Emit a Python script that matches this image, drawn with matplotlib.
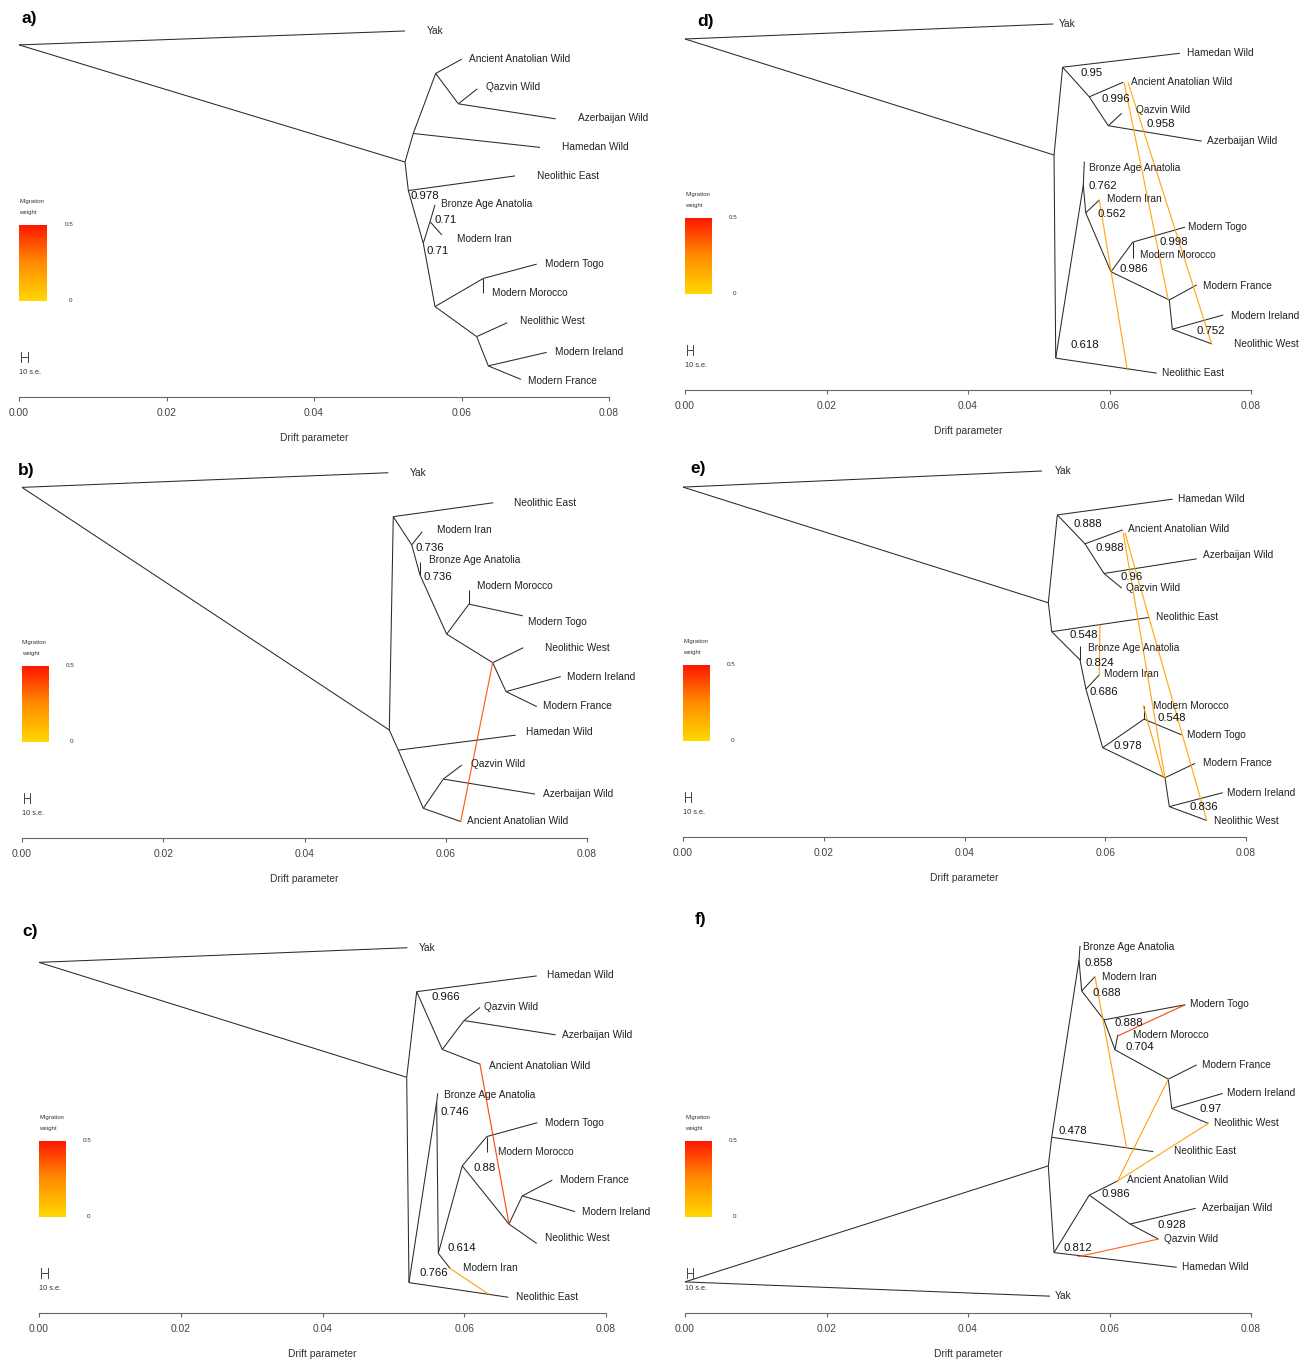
import numpy as np
import matplotlib
matplotlib.use("Agg")
import matplotlib.pyplot as plt
from matplotlib.colors import LinearSegmentedColormap

plt.rcParams['font.family'] = ['Liberation Sans', 'DejaVu Sans']

# population names used as tip labels
NAMES = {"Yak": "Yak", "AAW": "Ancient Anatolian Wild", "QAZ": "Qazvin Wild",
         "AZE": "Azerbaijan Wild", "HAM": "Hamedan Wild", "NE": "Neolithic East",
         "BAA": "Bronze Age Anatolia", "IRN": "Modern Iran", "TGO": "Modern Togo",
         "MOR": "Modern Morocco", "NW": "Neolithic West", "IRL": "Modern Ireland",
         "FRA": "Modern France"}

# ---- panel a (no migration) ----
a_nodes = ["r", "n1", "n2", "n3", "n4", "n5", "n6", "n7", "n8", "n9", "n10", "n11"]
a_nx = [0.0, 0.05234, 0.05346, 0.05650, 0.05957, 0.05279, 0.05482, 0.05573, 0.05641, 0.06296, 0.06206, 0.06363]
a_ny = [0.962, 0.642, 0.720, 0.884, 0.801, 0.564, 0.420, 0.479, 0.247, 0.324, 0.165, 0.085]
a_tips = ["Yak", "AAW", "QAZ", "AZE", "HAM", "NE", "BAA", "IRN", "TGO", "MOR", "NW", "IRL", "FRA"]
a_tx = [0.05234, 0.06003, 0.06214, 0.07277, 0.07064, 0.06725, 0.05641, 0.05732, 0.07020, 0.06296, 0.06621, 0.07155, 0.06807]
a_ty = [1.000, 0.923, 0.842, 0.760, 0.682, 0.604, 0.525, 0.443, 0.363, 0.283, 0.203, 0.122, 0.048]
a_lx = [0.05527, 0.06102, 0.06332, 0.07584, 0.07367, 0.07020, 0.05722, 0.05935, 0.07136, 0.06418, 0.06793, 0.07268, 0.06898]
a_ly = [1.000, 0.923, 0.846, 0.761, 0.682, 0.604, 0.527, 0.431, 0.363, 0.284, 0.208, 0.124, 0.045]
a_edges = [("r", "Yak"), ("r", "n1"), ("n1", "n2"), ("n2", "n3"), ("n3", "AAW"), ("n3", "n4"),
           ("n4", "QAZ"), ("n4", "AZE"), ("n2", "HAM"), ("n1", "n5"), ("n5", "NE"), ("n5", "n6"),
           ("n6", "n7"), ("n7", "BAA"), ("n7", "IRN"), ("n6", "n8"), ("n8", "n9"), ("n9", "TGO"),
           ("n9", "MOR"), ("n8", "n10"), ("n10", "NW"), ("n10", "n11"), ("n11", "IRL"), ("n11", "FRA")]
a_boot = ["0.978", "0.71", "0.71"]
a_bx = [0.05302, 0.05631, 0.05519]
a_by = [0.549, 0.484, 0.400]
a_mig = []

# ---- panel b ----
b_nodes = ["r", "n1", "T", "U", "V", "W", "X", "Y", "Z", "H2", "Q", "Q2"]
b_nx = [0.0, 0.05201, 0.05257, 0.05518, 0.05635, 0.06013, 0.06329, 0.06665, 0.06853, 0.05328, 0.05682, 0.05965]
b_ny = [0.958, 0.295, 0.878, 0.801, 0.719, 0.557, 0.639, 0.479, 0.400, 0.240, 0.081, 0.161]
b_tips = ["Yak", "NE", "IRN", "BAA", "MOR", "TGO", "NW", "IRL", "FRA", "HAM", "QAZ", "AZE", "AAW"]
b_tx = [0.05187, 0.06673, 0.05668, 0.05635, 0.06329, 0.07090, 0.07098, 0.07628, 0.07288, 0.06990, 0.06226, 0.07264, 0.06212]
b_ty = [0.998, 0.916, 0.837, 0.755, 0.678, 0.607, 0.520, 0.441, 0.359, 0.281, 0.199, 0.120, 0.045]
b_lx = [0.05484, 0.06966, 0.05872, 0.05763, 0.06447, 0.07169, 0.07405, 0.07712, 0.07381, 0.07132, 0.06353, 0.07381, 0.06297]
b_ly = [0.998, 0.916, 0.842, 0.760, 0.689, 0.591, 0.520, 0.441, 0.361, 0.289, 0.201, 0.120, 0.047]
b_edges = [("r", "Yak"), ("r", "n1"), ("n1", "T"), ("T", "NE"), ("T", "U"), ("U", "IRN"), ("U", "V"),
           ("V", "BAA"), ("V", "W"), ("W", "X"), ("X", "MOR"), ("X", "TGO"), ("W", "Y"), ("Y", "NW"),
           ("Y", "Z"), ("Z", "IRL"), ("Z", "FRA"), ("n1", "H2"), ("H2", "HAM"), ("H2", "Q"),
           ("Q", "Q2"), ("Q2", "QAZ"), ("Q2", "AZE"), ("Q", "AAW")]
b_boot = ["0.736", "0.736"]
b_bx = [0.05575, 0.05682]
b_by = [0.792, 0.714]
b_mig = [[0.06212, 0.045, 0.06665, 0.479, 0.38]]

# ---- panel c ----
c_nodes = ["r", "n1", "A", "B", "C", "D", "E", "F", "G", "H", "I", "J"]
c_nx = [0.0, 0.05188, 0.05329, 0.05690, 0.05996, 0.05220, 0.05611, 0.05634, 0.05972, 0.06317, 0.06631, 0.06819]
c_ny = [0.958, 0.644, 0.878, 0.720, 0.799, 0.083, 0.577, 0.163, 0.402, 0.482, 0.243, 0.320]
c_tips = ["Yak", "HAM", "QAZ", "AZE", "AAW", "BAA", "TGO", "MOR", "FRA", "IRL", "NW", "IRN", "NE"]
c_tx = [0.05197, 0.07022, 0.06222, 0.07290, 0.06222, 0.05625, 0.07031, 0.06317, 0.07242, 0.07563, 0.07022, 0.05799, 0.06622]
c_ty = [0.998, 0.921, 0.835, 0.760, 0.680, 0.600, 0.520, 0.441, 0.363, 0.277, 0.190, 0.122, 0.043]
c_lx = [0.05352, 0.07163, 0.06283, 0.07375, 0.06349, 0.05714, 0.07139, 0.06480, 0.07351, 0.07661, 0.07139, 0.05978, 0.06730]
c_ly = [0.998, 0.923, 0.835, 0.760, 0.675, 0.596, 0.520, 0.441, 0.363, 0.277, 0.204, 0.122, 0.043]
c_edges = [("r", "Yak"), ("r", "n1"), ("n1", "A"), ("A", "HAM"), ("A", "B"), ("B", "C"), ("C", "QAZ"),
           ("C", "AZE"), ("B", "AAW"), ("n1", "D"), ("D", "NE"), ("D", "E"), ("E", "BAA"), ("E", "F"),
           ("F", "IRN"), ("F", "G"), ("G", "H"), ("H", "TGO"), ("H", "MOR"), ("G", "I"), ("I", "J"),
           ("J", "FRA"), ("J", "IRL"), ("I", "NW")]
c_boot = ["0.966", "0.746", "0.88", "0.614", "0.766"]
c_bx = [0.05541, 0.05658, 0.06128, 0.05766, 0.05366]
c_by = [0.863, 0.550, 0.395, 0.177, 0.108]
c_mig = [[0.06222, 0.680, 0.06631, 0.243, 0.42], [0.05799, 0.122, 0.06339, 0.052, 0.2]]

# ---- panel d ----
d_nodes = ["r", "n1", "A", "B", "C", "D", "E", "F", "G", "H", "I", "J"]
d_nx = [0.0, 0.05216, 0.05338, 0.05714, 0.05983, 0.05240, 0.05630, 0.05664, 0.06021, 0.06328, 0.06845, 0.06888]
d_ny = [0.959, 0.642, 0.882, 0.801, 0.722, 0.087, 0.560, 0.484, 0.323, 0.404, 0.246, 0.166]
d_tips = ["Yak", "HAM", "AAW", "QAZ", "AZE", "BAA", "IRN", "TGO", "MOR", "FRA", "IRL", "NW", "NE"]
d_tx = [0.05206, 0.06996, 0.06195, 0.06172, 0.07303, 0.05644, 0.05856, 0.07067, 0.06328, 0.07232, 0.07608, 0.07444, 0.06667]
d_ty = [1.000, 0.920, 0.841, 0.756, 0.680, 0.624, 0.519, 0.445, 0.361, 0.287, 0.205, 0.126, 0.046]
d_lx = [0.05286, 0.07091, 0.06300, 0.06375, 0.07374, 0.05714, 0.05960, 0.07114, 0.06431, 0.07317, 0.07713, 0.07760, 0.06738]
d_ly = [1.000, 0.920, 0.841, 0.765, 0.680, 0.606, 0.522, 0.445, 0.369, 0.285, 0.203, 0.125, 0.046]
d_edges = [("r", "Yak"), ("r", "n1"), ("n1", "A"), ("A", "HAM"), ("A", "B"), ("B", "AAW"), ("B", "C"),
           ("C", "QAZ"), ("C", "AZE"), ("n1", "D"), ("D", "NE"), ("D", "E"), ("E", "BAA"), ("E", "F"),
           ("F", "IRN"), ("F", "G"), ("G", "H"), ("H", "TGO"), ("H", "MOR"), ("G", "I"), ("I", "FRA"),
           ("I", "J"), ("J", "IRL"), ("J", "NW")]
d_boot = ["0.95", "0.996", "0.958", "0.762", "0.562", "0.998", "0.986", "0.752", "0.618"]
d_bx = [0.05593, 0.05890, 0.06516, 0.05710, 0.05828, 0.06704, 0.06148, 0.07223, 0.05442]
d_by = [0.867, 0.794, 0.726, 0.557, 0.481, 0.404, 0.331, 0.162, 0.123]
d_mig = [[0.06209, 0.838, 0.06831, 0.246, 0.18], [0.06266, 0.838, 0.07444, 0.126, 0.18],
         [0.06252, 0.055, 0.05856, 0.519, 0.18]]

# ---- panel e ----
e_nodes = ["r", "n1", "A", "B", "C", "D", "E", "F", "G", "H", "I", "J"]
e_nx = [0.0, 0.05191, 0.05319, 0.05712, 0.05982, 0.05239, 0.05641, 0.05726, 0.05964, 0.06551, 0.06849, 0.06910]
e_ny = [0.956, 0.640, 0.880, 0.801, 0.720, 0.561, 0.484, 0.404, 0.244, 0.322, 0.162, 0.083]
e_tips = ["Yak", "HAM", "AAW", "AZE", "QAZ", "NE", "BAA", "IRN", "MOR", "TGO", "FRA", "IRL", "NW"]
e_tx = [0.05101, 0.06958, 0.06248, 0.07299, 0.06234, 0.06626, 0.05641, 0.05915, 0.06551, 0.07086, 0.07275, 0.07669, 0.07442]
e_ty = [1.000, 0.923, 0.839, 0.760, 0.680, 0.600, 0.522, 0.443, 0.358, 0.279, 0.201, 0.121, 0.045]
e_lx = [0.05286, 0.07038, 0.06328, 0.07393, 0.06295, 0.06721, 0.05759, 0.05982, 0.06683, 0.07157, 0.07393, 0.07734, 0.07545]
e_ly = [1.000, 0.923, 0.841, 0.770, 0.680, 0.600, 0.517, 0.445, 0.359, 0.279, 0.203, 0.121, 0.045]
e_edges = [("r", "Yak"), ("r", "n1"), ("n1", "A"), ("A", "HAM"), ("A", "B"), ("B", "AAW"), ("B", "C"),
           ("C", "AZE"), ("C", "QAZ"), ("n1", "D"), ("D", "NE"), ("D", "E"), ("E", "BAA"), ("E", "F"),
           ("F", "IRN"), ("F", "G"), ("G", "H"), ("H", "MOR"), ("H", "TGO"), ("G", "I"), ("I", "FRA"),
           ("I", "J"), ("J", "IRL"), ("J", "NW")]
e_boot = ["0.888", "0.988", "0.96", "0.548", "0.824", "0.686", "0.548", "0.978", "0.836"]
e_bx = [0.05546, 0.05864, 0.06220, 0.05499, 0.05722, 0.05783, 0.06740, 0.06124, 0.07194]
e_by = [0.854, 0.789, 0.711, 0.552, 0.476, 0.395, 0.324, 0.249, 0.081]
e_mig = [[0.05925, 0.579, 0.05915, 0.443, 0.2], [0.06256, 0.830, 0.06849, 0.162, 0.18],
         [0.06281, 0.830, 0.07442, 0.045, 0.18], [0.06541, 0.358, 0.06825, 0.165, 0.2]]

# ---- panel f ----
f_nodes = ["r", "n1", "A", "B", "C", "D", "E", "F", "G", "H", "I", "J"]
f_nx = [0.0, 0.05135, 0.05183, 0.05569, 0.05607, 0.05922, 0.06078, 0.06831, 0.06879, 0.05216, 0.05714, 0.06290]
f_ny = [0.085, 0.402, 0.480, 0.964, 0.880, 0.801, 0.719, 0.639, 0.559, 0.165, 0.322, 0.243]
f_tips = ["BAA", "IRN", "TGO", "MOR", "FRA", "IRL", "NW", "NE", "AAW", "AZE", "QAZ", "HAM", "Yak"]
f_tx = [0.05583, 0.05795, 0.07067, 0.06116, 0.07232, 0.07600, 0.07396, 0.06619, 0.06116, 0.07218, 0.06690, 0.06950, 0.05159]
f_ty = [1.003, 0.919, 0.842, 0.760, 0.678, 0.600, 0.518, 0.441, 0.361, 0.286, 0.202, 0.125, 0.046]
f_lx = [0.05630, 0.05890, 0.07138, 0.06328, 0.07303, 0.07656, 0.07481, 0.06916, 0.06243, 0.07312, 0.06770, 0.07020, 0.05230]
f_ly = [1.001, 0.919, 0.844, 0.759, 0.678, 0.600, 0.518, 0.443, 0.363, 0.286, 0.202, 0.125, 0.046]
f_edges = [("r", "Yak"), ("r", "n1"), ("n1", "A"), ("A", "NE"), ("A", "B"), ("B", "BAA"), ("B", "C"),
           ("C", "IRN"), ("C", "D"), ("D", "TGO"), ("D", "E"), ("E", "MOR"), ("E", "F"), ("F", "FRA"),
           ("F", "G"), ("G", "IRL"), ("G", "NW"), ("n1", "H"), ("H", "HAM"), ("H", "I"), ("I", "AAW"),
           ("I", "J"), ("J", "AZE"), ("J", "QAZ")]
f_boot = ["0.858", "0.688", "0.888", "0.704", "0.97", "0.478", "0.986", "0.928", "0.812"]
f_bx = [0.05644, 0.05762, 0.06064, 0.06233, 0.07279, 0.05276, 0.05890, 0.06681, 0.05347]
f_by = [0.955, 0.875, 0.792, 0.726, 0.557, 0.497, 0.324, 0.240, 0.177]
f_mig = [[0.05795, 0.919, 0.06243, 0.450, 0.2], [0.07067, 0.842, 0.06116, 0.757, 0.42],
         [0.06116, 0.361, 0.06831, 0.639, 0.2], [0.06116, 0.361, 0.07396, 0.518, 0.18],
         [0.05559, 0.154, 0.06690, 0.202, 0.35]]

xticks = [0.00, 0.02, 0.04, 0.06, 0.08]

W, H = 1309, 1361
cmap = LinearSegmentedColormap.from_list("mig", ["#FFD800", "#FF8C00", "#FF1400"])
line_col = "#2a2a2a"
tip_fs = 7.3
boot_fs = 8.2

# panel layout: left px of 0.00, right px of 0.08, px row of the axis line, label position
panels = [
    ("a)", 19, 609, 397, (0.0004, 1.033), a_nodes, a_nx, a_ny, a_tips, a_tx, a_ty, a_lx, a_ly, a_edges, a_boot, a_bx, a_by, a_mig),
    ("b)", 22, 587, 838, (-0.0006, 1.003), b_nodes, b_nx, b_ny, b_tips, b_tx, b_ty, b_lx, b_ly, b_edges, b_boot, b_bx, b_by, b_mig),
    ("c)", 39, 606, 1313, (-0.0024, 1.041), c_nodes, c_nx, c_ny, c_tips, c_tx, c_ty, c_lx, c_ly, c_edges, c_boot, c_bx, c_by, c_mig),
    ("d)", 685, 1251, 390, (0.0017, 1.008), d_nodes, d_nx, d_ny, d_tips, d_tx, d_ty, d_lx, d_ly, d_edges, d_boot, d_bx, d_by, d_mig),
    ("e)", 683, 1246, 837, (0.0010, 1.008), e_nodes, e_nx, e_ny, e_tips, e_tx, e_ty, e_lx, e_ly, e_edges, e_boot, e_bx, e_by, e_mig),
    ("f)", 685, 1251, 1313, (0.0014, 1.074), f_nodes, f_nx, f_ny, f_tips, f_tx, f_ty, f_lx, f_ly, f_edges, f_boot, f_bx, f_by, f_mig),
]

fig = plt.figure(figsize=(W / 100, H / 100), dpi=100)

for (tag, left, right, axis_y, tagpos, nodes, nx, ny, tips, tx, ty, lx, ly,
     edges, boot, bx, by, mig) in panels:
    ax = fig.add_axes([left / W, 1 - axis_y / H, (right - left) / W, 366 / H])
    ax.set_xlim(0, 0.08)
    ax.set_ylim(0, 1)

    pos = {n: (x, y) for n, x, y in zip(nodes, nx, ny)}
    pos.update({t: (x, y) for t, x, y in zip(tips, tx, ty)})

    # tree branches
    for p, c in edges:
        ax.plot([pos[p][0], pos[c][0]], [pos[p][1], pos[c][1]], color=line_col, lw=0.75,
                clip_on=False, solid_capstyle="butt")

    # migration edges coloured by weight
    for x1, y1, x2, y2, w in mig:
        ax.plot([x1, x2], [y1, y2], color=cmap(w / 0.5), lw=0.85, alpha=0.9, clip_on=False, zorder=3)

    # tip labels
    for t, x, y in zip(tips, lx, ly):
        ax.text(x, y, NAMES[t], fontsize=tip_fs, color="#222222", ha="left", va="center", clip_on=False)

    # bootstrap support
    for b, x, y in zip(boot, bx, by):
        ax.text(x, y, b, fontsize=boot_fs, color="#111111", ha="left", va="center", clip_on=False)

    ax.text(tagpos[0], tagpos[1], tag, fontsize=12.5, fontweight="bold", ha="left", va="center")

    # migration weight legend
    cax = ax.inset_axes([0.0, 0.262, 0.047, 0.208])
    grad = np.linspace(0, 1, 200).reshape(-1, 1)
    cax.imshow(grad, aspect="auto", cmap=cmap, origin="lower", extent=[0, 1, 0, 1])
    cax.axis("off")
    ax.text(0.0, 0.534, "Migration", transform=ax.transAxes, fontsize=4.3, color="#333333", va="center")
    ax.text(0.0, 0.503, "weight", transform=ax.transAxes, fontsize=4.3, color="#333333", va="center")
    ax.text(0.077, 0.470, "0.5", transform=ax.transAxes, fontsize=4.5, color="#333333", va="center")
    ax.text(0.084, 0.263, "0", transform=ax.transAxes, fontsize=4.5, color="#333333", va="center")
    # 10 s.e. scale bar
    ax.plot([0.004, 0.015], [0.109, 0.109], transform=ax.transAxes, color="#444444", lw=0.7)
    ax.plot([0.004, 0.004], [0.095, 0.123], transform=ax.transAxes, color="#444444", lw=0.7)
    ax.plot([0.015, 0.015], [0.095, 0.123], transform=ax.transAxes, color="#444444", lw=0.7)
    ax.text(0.0, 0.068, "10 s.e.", transform=ax.transAxes, fontsize=5.3, color="#333333", va="center")

    # drift axis
    for s in ["top", "left", "right"]:
        ax.spines[s].set_visible(False)
    ax.spines["bottom"].set_color("#666666")
    ax.spines["bottom"].set_linewidth(0.8)
    ax.spines["bottom"].set_bounds(0, 0.08)
    ax.set_yticks([])
    ax.set_xticks(xticks)
    ax.set_xticklabels(["%.2f" % v for v in xticks])
    ax.tick_params(axis="x", direction="out", length=3, width=0.8, color="#666666",
                   labelsize=7.4, labelcolor="#444444", pad=5)
    ax.set_xlabel("Drift parameter", fontsize=7.4, color="#333333", labelpad=11)
    ax.patch.set_visible(False)

fig.savefig("out.png", dpi=100)
